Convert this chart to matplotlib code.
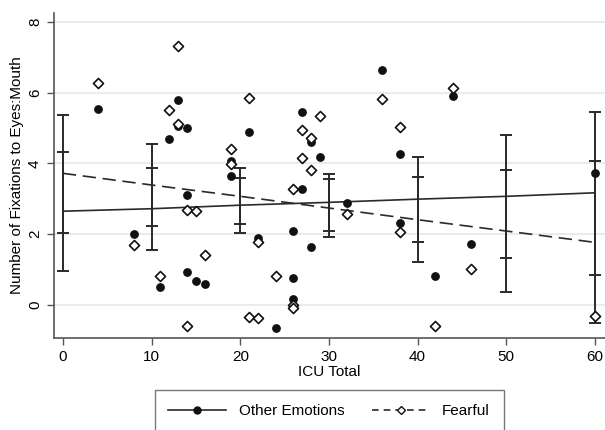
import matplotlib.pyplot as plt
import numpy as np
from matplotlib.lines import Line2D

plt.rcParams['font.family'] = ['Liberation Sans', 'DejaVu Sans']

# scatter data: ICU total vs ratio of fixations
other_x = [4, 8, 11, 12, 13, 13, 14, 14, 14, 15, 16, 19, 19, 21, 22, 24, 26, 26, 26,
           27, 27, 28, 28, 29, 32, 36, 38, 38, 42, 44, 46, 60]
other_y = [5.55, 2.0, 0.5, 4.69, 5.79, 5.05, 5.0, 3.1, 0.93, 0.68, 0.59, 4.08, 3.65, 4.9,
           1.89, -0.66, 2.1, 0.76, 0.16, 5.46, 3.28, 4.6, 1.64, 4.18, 2.88, 6.63, 4.26,
           2.32, 0.82, 5.9, 1.72, 3.72]

fear_x = [4, 8, 11, 12, 13, 13, 14, 14, 15, 16, 19, 19, 21, 21, 22, 22, 24, 26, 26, 26,
          27, 27, 28, 28, 29, 32, 36, 38, 38, 42, 44, 46, 60]
fear_y = [6.26, 1.69, 0.82, 5.52, 7.32, 5.1, 2.67, -0.6, 2.65, 1.42, 4.4, 3.97, 5.86,
          -0.33, 1.77, -0.37, 0.82, 3.27, 0.0, -0.07, 4.95, 4.16, 4.73, 3.81, 5.33, 2.58,
          5.82, 5.02, 2.07, -0.6, 6.13, 1.03, -0.32]

# fitted lines with confidence intervals at the margin points
grid_x = [0, 10, 20, 30, 40, 50, 60]
other_fit = [2.65, 2.72, 2.82, 2.90, 2.99, 3.07, 3.17]
other_lo = [0.95, 1.55, 2.03, 2.09, 1.78, 1.33, 0.85]
other_hi = [4.32, 3.88, 3.60, 3.71, 4.19, 4.79, 5.45]
fear_fit = [3.72, 3.39, 3.07, 2.74, 2.41, 2.09, 1.77]
fear_lo = [2.03, 2.22, 2.30, 1.92, 1.21, 0.37, -0.50]
fear_hi = [5.38, 4.54, 3.86, 3.56, 3.62, 3.82, 4.07]

fig = plt.figure(figsize=(6.05, 4.3), dpi=100)
ax = fig.add_axes([0.089, 0.214, 0.911, 0.756])

line_col = '#2a2a2a'
ax.plot(grid_x, other_fit, color=line_col, lw=1.2, zorder=3)
ax.plot(grid_x, fear_fit, color=line_col, lw=1.2, ls=(0, (8, 4)), zorder=3)

for lo, hi in [(other_lo, other_hi), (fear_lo, fear_hi)]:
    gx = np.array(grid_x)
    mid = (np.array(lo) + np.array(hi)) / 2
    err = [mid - np.array(lo), np.array(hi) - mid]
    ax.errorbar(gx, mid, yerr=err, fmt='none', ecolor=line_col, elinewidth=1.4,
                capsize=4, capthick=1.4, zorder=3)

ax.scatter(other_x, other_y, s=28, color='#111111', zorder=4)
ax.scatter(fear_x, fear_y, s=26, marker='D', facecolor='white', edgecolor='#111111',
           linewidths=1.2, zorder=5)

ax.set_xlim(-1.02, 61.13)
ax.set_ylim(-0.93, 8.25)
ax.set_xticks([0, 10, 20, 30, 40, 50, 60])
ax.set_yticks([0, 2, 4, 6, 8])
ax.set_yticklabels(['0', '2', '4', '6', '8'], rotation=90, va='center')
ax.tick_params(labelsize=11, length=5, color='#555555', width=1)
ax.grid(axis='y', color='#e8e8e8', lw=1.2)
ax.set_axisbelow(True)
for s in ['top', 'right']:
    ax.spines[s].set_visible(False)
for s in ['left', 'bottom']:
    ax.spines[s].set_color('#555555')
    ax.spines[s].set_linewidth(1.2)

ax.set_xlabel('ICU Total', fontsize=11, labelpad=1)
ax.set_ylabel('Number of Fixations to Eyes:Mouth', fontsize=11, labelpad=3)

handles = [
    Line2D([0], [0], color=line_col, lw=1.2, marker='o', markersize=5,
           markerfacecolor='#111111', markeredgecolor='#111111', label='Other Emotions'),
    Line2D([0], [0], color=line_col, lw=1.2, ls=(0, (4, 3)), marker='D', markersize=4.5,
           markerfacecolor='white', markeredgecolor='#111111', label='Fearful'),
]
leg = fig.legend(handles=handles, loc='upper center', bbox_to_anchor=(0.544, 0.11),
                 ncol=2, frameon=True, fancybox=False, fontsize=11, handlelength=3.8,
                 handletextpad=0.8, columnspacing=1.8, borderpad=0.9, edgecolor='#555555')
leg.get_frame().set_linewidth(1.0)

plt.savefig('out.png', dpi=100)
